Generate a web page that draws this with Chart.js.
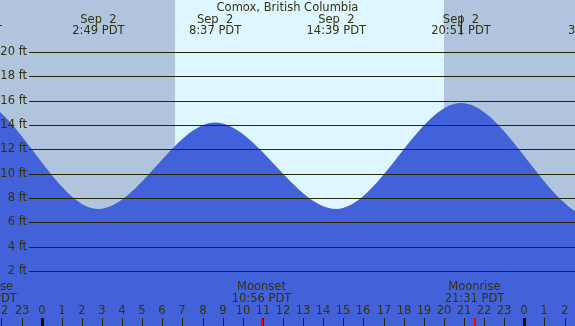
<!DOCTYPE html>
<html>
<head>
<meta charset="utf-8">
<script src="https://cdn.jsdelivr.net/npm/chart.js@4"></script>
<style>
  html, body { margin: 0; padding: 0; background: #b0c4de; }
  #wrap { width: 575px; height: 326px; position: relative; }
</style>
</head>
<body>
<div id="wrap"><canvas id="tideChart"></canvas></div>
<script>
// ── Data ─────────────────────────────────────────────────────────
// hours relative to Sep 2 00:00 PDT
const TIDE_HOURS = [-9.6, -3.47, 2.82, 8.62, 14.65, 20.85, 27.47, 33.7];
const TIDE_FEET  = [7.0, 16.2, 7.1, 14.2, 7.1, 15.8, 6.4, 14.6];
const TIDE_DATES = ['Sep  1', 'Sep  1', 'Sep  2', 'Sep  2', 'Sep  2', 'Sep  2', 'Sep  3', 'Sep  3'];
const TIDE_TIMES = ['14:05 PDT', '20:32 PDT', '2:49 PDT', '8:37 PDT', '14:39 PDT', '20:51 PDT', '3:28 PDT', '9:42 PDT'];

const SUNRISE = 6.63;
const SUNSET = 20.0;

const MOON_HOURS  = [-2.72, 10.93, 21.52];
const MOON_EVENTS = ['Moonrise', 'Moonset', 'Moonrise'];
const MOON_TIMES  = ['21:17 PDT', '10:56 PDT', '21:31 PDT'];

const FT_TICKS = [2, 4, 6, 8, 10, 12, 14, 16, 18, 20];
const FT_LABELS = ['2 ft', '4 ft', '6 ft', '8 ft', '10 ft', '12 ft', '14 ft', '16 ft', '18 ft', '20 ft'];

const HOUR_TICKS = [-2, -1, 0, 1, 2, 3, 4, 5, 6, 7, 8, 9, 10, 11, 12, 13, 14,
  15, 16, 17, 18, 19, 20, 21, 22, 23, 24, 25, 26];
const HOUR_LABELS = ['22', '23', '0', '1', '2', '3', '4', '5', '6', '7', '8', '9', '10', '11', '12', '13', '14',
  '15', '16', '17', '18', '19', '20', '21', '22', '23', '0', '1', '2'];
const MIDNIGHTS = [0, 24];
const MARKER_HOUR = 20.85;

const TITLE = 'Comox, British Columbia';

// ── Style ────────────────────────────────────────────────────────
const NIGHT = '#b0c4de';
const DAY = '#ddf6ff';
const WATER = '#4361d8';
const INK = '#33330c';
const GRID = '#262608';
const FONT = '11.5px "DejaVu Sans", sans-serif';

// ── Decorations ──────────────────────────────────────────────────
const tidePlugin = {
  id: 'tideDecor',
  beforeDatasetsDraw(chart) {
    const { ctx, chartArea: a, scales: { x } } = chart;
    ctx.save();
    ctx.fillStyle = NIGHT;
    ctx.fillRect(a.left, a.top, a.right - a.left, a.bottom - a.top);
    const x0 = Math.round(x.getPixelForValue(SUNRISE));
    const x1 = Math.round(x.getPixelForValue(SUNSET));
    ctx.fillStyle = DAY;
    ctx.fillRect(x0, a.top, x1 - x0, a.bottom - a.top);
    ctx.restore();
  },
  afterDatasetsDraw(chart) {
    const { ctx, chartArea: a, scales: { x, y } } = chart;
    ctx.save();
    ctx.font = FONT;
    ctx.fillStyle = INK;
    ctx.textBaseline = 'middle';

    // horizontal grid + labels
    ctx.strokeStyle = GRID;
    ctx.lineWidth = 1;
    FT_TICKS.forEach((v, i) => {
      const py = Math.round(y.getPixelForValue(v)) + 0.5;
      ctx.beginPath();
      ctx.moveTo(29, py);
      ctx.lineTo(a.right, py);
      ctx.stroke();
      ctx.textAlign = 'right';
      ctx.fillText(FT_LABELS[i], 27, py);
    });

    // title
    ctx.textAlign = 'center';
    ctx.fillText(TITLE, (a.left + a.right) / 2, 8);

    // high / low labels
    TIDE_HOURS.forEach((h, i) => {
      const px = x.getPixelForValue(h);
      ctx.fillText(TIDE_DATES[i], px, 20);
      ctx.fillText(TIDE_TIMES[i], px, 31.5);
    });

    const mx = Math.round(x.getPixelForValue(MARKER_HOUR)) + 0.5;
    ctx.beginPath();
    ctx.moveTo(mx, 15);
    ctx.lineTo(mx, 35);
    ctx.stroke();

    // moon labels
    MOON_HOURS.forEach((h, i) => {
      const px = x.getPixelForValue(h);
      ctx.fillText(MOON_EVENTS[i], px, 287.5);
      ctx.fillText(MOON_TIMES[i], px, 299.5);
    });

    // hour labels + ticks
    const tickTop = a.bottom - 8;
    HOUR_TICKS.forEach((h, i) => {
      const px = Math.round(x.getPixelForValue(h));
      ctx.fillText(HOUR_LABELS[i], px, 311.5);
      if (MIDNIGHTS.includes(h)) return;
      ctx.fillStyle = GRID;
      ctx.fillRect(px, tickTop, 1, 8);
      ctx.fillStyle = INK;
    });

    ctx.fillStyle = '#111100';
    MIDNIGHTS.forEach(h => {
      const px = Math.round(x.getPixelForValue(h));
      ctx.fillRect(px - 1, tickTop, 3, 8);
    });

    ctx.fillStyle = '#ff0000';
    MOON_HOURS.forEach(h => {
      const px = Math.round(x.getPixelForValue(h));
      ctx.fillRect(px, tickTop, 2, 8);
    });

    ctx.restore();
  }
};

// ── Chart ────────────────────────────────────────────────────────
new Chart(document.getElementById('tideChart'), {
  type: 'line',
  data: {
    datasets: [{
      data: TIDE_HOURS.map((h, i) => ({ x: h, y: TIDE_FEET[i] })),
      borderWidth: 0,
      borderColor: WATER,
      backgroundColor: WATER,
      fill: 'start',
      pointRadius: 0,
      cubicInterpolationMode: 'monotone'
    }]
  },
  options: {
    responsive: true,
    maintainAspectRatio: false,
    animation: false,
    layout: { padding: 0 },
    plugins: {
      legend: { display: false },
      title: { display: false },
      tooltip: { enabled: false }
    },
    scales: {
      x: { type: 'linear', min: -2.074, max: 26.52, display: false },
      y: { min: -2.51, max: 24.25, display: false }
    }
  },
  plugins: [tidePlugin]
});
</script>
</body>
</html>
